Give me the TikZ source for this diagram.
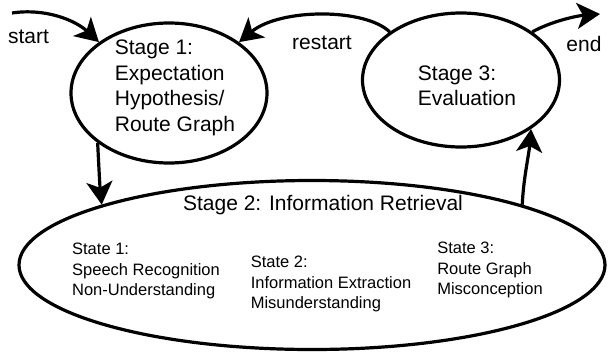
\documentclass[tikz,border=0pt]{standalone}
\usepackage{fontspec}
\setmainfont{Liberation Sans}
\usetikzlibrary{arrows.meta,shapes.geometric}
\tikzset{
  stagebox/.style={ellipse, draw, line width=3.2pt, inner sep=0pt},
  bigtext/.style={align=left, inner sep=0pt, font=\fontsize{21}{25.5}\selectfont},
  smalltext/.style={align=left, inner sep=0pt, font=\fontsize{16.5}{20.3}\selectfont},
  lbl/.style={inner sep=0pt, font=\fontsize{21}{25}\selectfont},
  conn/.style={line width=3.2pt, -{Stealth[length=23pt,width=26pt,inset=6pt]}},
}
\begin{document}
\begin{tikzpicture}[x=1pt,y=-1pt]
\useasboundingbox (0,0) rectangle (608,354);
\fill[white] (0,0) rectangle (608,354);
% stages
\node[stagebox, minimum width=196pt, minimum height=140pt] (s1) at (169,93) {};
\node[stagebox, minimum width=197pt, minimum height=134pt] (s3) at (461,80) {};
\node[stagebox, minimum width=586pt, minimum height=169pt] (s2) at (312,265) {};
% texts
\node[bigtext] (t1) at (175,88) {Stage 1:\\Expectation\\Hypothesis/\\Route Graph};
\node[bigtext] (t3) at (467,86) {Stage 3:\\Evaluation};
\node[bigtext] (t2) at (323,205) {Stage 2: Information Retrieval};
\node[smalltext] (st1) at (146,271) {State 1:\\Speech Recognition\\Non-Understanding};
\node[smalltext] (st2) at (331,284) {State 2:\\Information Extraction\\Misunderstanding};
\node[smalltext] (st3) at (490,270) {State 3:\\Route Graph\\Misconception};
% labels
\node[lbl] (lstart) at (28.5,37) {start};
\node[lbl] (lrestart) at (322,43) {restart};
\node[lbl] (lend) at (584,44) {end};
% connectors
\coordinate (sa) at (12,13);
\coordinate (ea) at (600,14);
\draw[conn] (sa) .. controls (45,8) and (75,20) .. (s1.144);
\draw[conn] (s3.146) .. controls (365,8) and (280,8) .. (s1.36);
\draw[conn] (s3.34) .. controls (550,22) and (575,16) .. (ea);
\draw[conn] (s1.215) .. controls +(1,20) and +(-2,-20) .. (s2.164);
\draw[conn] (s2.16) .. controls +(1,-25) and +(-2,25) .. (s3.325);
\end{tikzpicture}
\end{document}
